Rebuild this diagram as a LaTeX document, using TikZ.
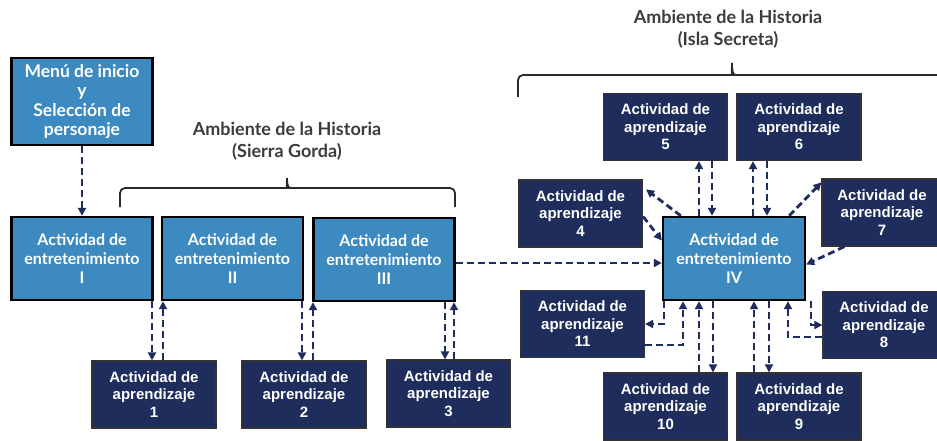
\documentclass[tikz,border=0pt]{standalone}
\usepackage{fontspec}
\setmainfont{Liberation Sans}
\newfontfamily\gillfont{Lato}
\usetikzlibrary{arrows.meta, positioning, calc}
\definecolor{navyblue}{RGB}{31, 45, 92}
\definecolor{stoneblue}{RGB}{60, 138, 192}
\definecolor{titlegray}{RGB}{60, 60, 60}

\begin{document}
\begin{tikzpicture}[x=1pt, y=-1pt,
    entbox/.style={rectangle, draw=black, line width=2.4pt, fill=stoneblue,
                   minimum width=141pt, minimum height=83pt, align=center,
                   text=white, font=\gillfont\bfseries\fontsize{16}{19}\selectfont},
    aprbox/.style={rectangle, draw=black!80, line width=1.2pt, fill=navyblue,
                   minimum width=124pt, minimum height=67pt, align=center,
                   text=white, font=\bfseries\fontsize{15}{17.5}\selectfont},
    envtitle/.style={align=center, text=titlegray,
                     font=\gillfont\bfseries\fontsize{18}{22}\selectfont},
    linkarrow/.style={draw=navyblue, line width=2.8pt, dash pattern=on 7pt off 4pt,
                      -{Triangle[length=8pt, width=8pt]}},
    envbrace/.style={draw=titlegray!70!black, line width=1.8pt}
]
\clip (0,0) rectangle (937,441);
\fill[white] (0,0) rectangle (937,441);

%% ── Start menu ──────────────────────────────────────────────────────────────
\node[entbox, minimum height=87pt, font=\gillfont\bfseries\fontsize{17.5}{19.5}\selectfont]
    (menu) at (82,101.5) {Menú de inicio\\y\\Selección de\\personaje};

%% ── Sierra Gorda ────────────────────────────────────────────────────────────
\node[envtitle] (sierratitle) at (287,141) {Ambiente de la Historia\\(Sierra Gorda)};
\draw[envbrace] (120,207) [rounded corners=5pt] |- (283,188) [sharp corners]
    .. controls (286,188) and (287,185) .. (287,178)
    .. controls (287,185) and (288,188) .. (291,188) [rounded corners=5pt] -| (455,207);

\node[entbox] (ent1) at (82,258.5)  {Actividad de\\entretenimiento\\I};
\node[entbox] (ent2) at (232.5,258.5) {Actividad de\\entretenimiento\\II};
\node[entbox] (ent3) at (384,259.5) {Actividad de\\entretenimiento\\III};

\node[aprbox] (apr1) at (154,394.5)   {Actividad de\\aprendizaje\\1};
\node[aprbox] (apr2) at (304,394.5)   {Actividad de\\aprendizaje\\2};
\node[aprbox] (apr3) at (448.5,393.5) {Actividad de\\aprendizaje\\3};

%% ── Isla Secreta ────────────────────────────────────────────────────────────
\node[envtitle] (islatitle) at (728,29) {Ambiente de la Historia\\(Isla Secreta)};
\draw[envbrace] (518,97) [rounded corners=5pt] |- (728,75) [sharp corners]
    .. controls (731,75) and (732,72) .. (732,63)
    .. controls (732,72) and (733,75) .. (736,75) [rounded corners=5pt] -| (946,97);

\node[entbox, minimum width=142pt] (ent4) at (734,258.5) {Actividad de\\entretenimiento\\IV};

\node[aprbox] (apr5)  at (665.5,127)   {Actividad de\\aprendizaje\\5};
\node[aprbox] (apr6)  at (799,127)     {Actividad de\\aprendizaje\\6};
\node[aprbox] (apr4)  at (580.5,213.5) {Actividad de\\aprendizaje\\4};
\node[aprbox, minimum width=120pt] (apr7) at (882,212.5) {Actividad de\\aprendizaje\\7};
\node[aprbox] (apr11) at (582.5,324)   {Actividad de\\aprendizaje\\11};
\node[aprbox, minimum width=122pt] (apr8) at (884,325) {Actividad de\\aprendizaje\\8};
\node[aprbox] (apr10) at (665.5,406.5) {Actividad de\\aprendizaje\\10};
\node[aprbox] (apr9)  at (799,406.5)   {Actividad de\\aprendizaje\\9};

%% ── Arrows ──────────────────────────────────────────────────────────────────
\draw[linkarrow] (menu) -- (ent1);
\draw[linkarrow] (152,0 |- ent1.south) -- (152,0 |- apr1.north);
\draw[linkarrow] (163,0 |- apr1.north) -- (163,0 |- ent2.south);
\draw[linkarrow] (302,0 |- ent2.south) -- (302,0 |- apr2.north);
\draw[linkarrow] (313,0 |- apr2.north) -- (313,0 |- ent3.south);
\draw[linkarrow] (445,0 |- ent3.south) -- (445,0 |- apr3.north);
\draw[linkarrow] (454,0 |- apr3.north) -- (454,0 |- ent3.south);
\draw[linkarrow] (0,263 -| ent3.east) -- (0,263 -| ent4.west);

\draw[linkarrow] (699,0 |- ent4.north) -- (699,0 |- apr5.south);
\draw[linkarrow] (712,0 |- apr5.south) -- (712,0 |- ent4.north);
\draw[linkarrow] (753,0 |- ent4.north) -- (753,0 |- apr6.south);
\draw[linkarrow] (767,0 |- apr6.south) -- (767,0 |- ent4.north);
\draw[linkarrow] ($(ent4.north west)+(19,0)$) -- ($(apr4.north east)+(3,10)$);
\draw[linkarrow] ($(apr4.east)+(0,3)$) -- ($(ent4.west)+(0,-18)$);
\draw[linkarrow] ($(ent4.north east)+(-17,0)$) -- ($(apr7.north west)+(0,4)$);
\draw[linkarrow] ($(apr7.south west)+(23,0)$) -- ($(ent4.east)+(0,6)$);
\draw[linkarrow] (664,0 |- ent4.south) |- (apr11.east);
\draw[linkarrow] (apr11.east |- 0,345) -| (683,0 |- ent4.south);
\draw[linkarrow] (699,0 |- apr10.north) -- (699,0 |- ent4.south);
\draw[linkarrow] (713,0 |- ent4.south) -- (713,0 |- apr10.north);
\draw[linkarrow] (754,0 |- apr9.north) -- (754,0 |- ent4.south);
\draw[linkarrow] (769,0 |- ent4.south) -- (769,0 |- apr9.north);
\draw[linkarrow] (811,0 |- ent4.south) |- (apr8.west);
\draw[linkarrow] (apr8.west |- 0,337) -| (788,0 |- ent4.south);

\end{tikzpicture}
\end{document}
